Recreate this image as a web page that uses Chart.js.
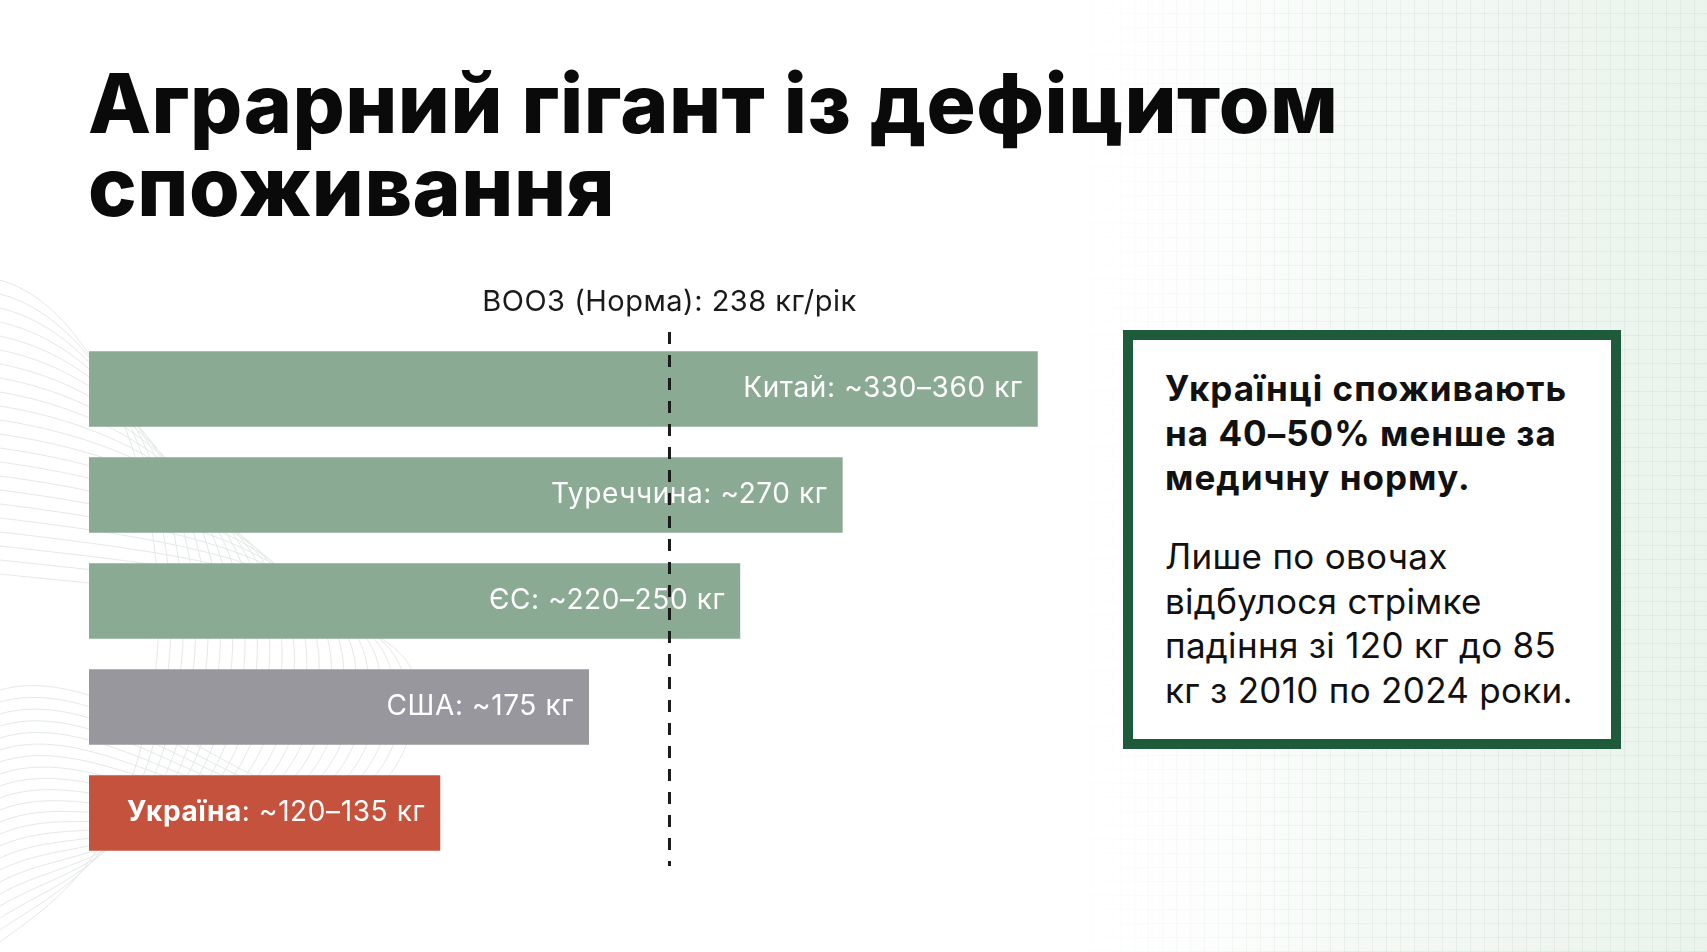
<!DOCTYPE html>
<html lang="uk">
<head>
<meta charset="utf-8">
<title>Аграрний гігант із дефіцитом споживання</title>
<script src="https://cdn.jsdelivr.net/npm/chart.js@4.4.1/dist/chart.umd.min.js"></script>
<style>
    html, body { margin: 0; padding: 0; }
    body {
        width: 1707px; height: 952px; overflow: hidden; position: relative;
        background: #ffffff; font-family: 'Inter', 'Noto Sans', sans-serif; color: #111;
    }
    .bg-right {
        position: absolute; left: 1050px; top: 0; width: 657px; height: 952px;
        background:
            repeating-linear-gradient(0deg, rgba(120,160,135,0.10) 0 1px, transparent 1px 14px),
            repeating-linear-gradient(90deg, rgba(120,160,135,0.10) 0 1px, transparent 1px 14px),
            linear-gradient(90deg, rgba(255,255,255,0) 0%, rgba(225,238,229,0.7) 100%);
        -webkit-mask-image: linear-gradient(90deg, transparent 0%, #000 45%);
        mask-image: linear-gradient(90deg, transparent 0%, #000 45%);
    }
    .bg-waves { position: absolute; left: 0; top: 270px; }
    h1 {
        position: absolute; left: 88px; top: 62px; margin: 0;
        font-size: 82px; line-height: 83px; font-weight: 800; letter-spacing: 0.5px;
        color: #0a0a0a;
    }
    #chart-wrap { position: absolute; left: 89px; top: 270px; width: 1000px; height: 600px; }
    .note {
        position: absolute; left: 1123px; top: 330px; width: 478px; height: 399px;
        border: 10px solid #1e5b3b; background: #fff;
    }
    .note p { position: absolute; left: 32px; margin: 0; font-size: 35px; line-height: 44.6px; color: #111; white-space: nowrap; }
    .note .strong { top: 26px; font-weight: 700; letter-spacing: 1px; }
    .note .plain { top: 194px; font-weight: 400; letter-spacing: 0.3px; }
</style>
</head>
<body>
<div class="bg-right"></div>
<svg class="bg-waves" width="560" height="682" id="waves"></svg>

<h1>Аграрний гігант із дефіцитом<br>споживання</h1>

<div id="chart-wrap"><canvas id="vegChart"></canvas></div>

<div class="note">
    <p class="strong">Українці споживають<br>на 40–50% менше за<br>медичну норму.</p>
    <p class="plain">Лише по овочах<br>відбулося стрімке<br>падіння зі 120 кг до 85<br>кг з 2010 по 2024 роки.</p>
</div>

<script>
// дані графіка
const countries = ['Китай', 'Туреччина', 'ЄС', 'США', 'Україна'];
const amountLabels = ['~330–360 кг', '~270 кг', '~220–250 кг', '~175 кг', '~120–135 кг'];
// довжини смуг, зчитані відносно лінії норми (238 кг)
const barValues = [389, 309, 267, 205, 144];
const barColors = ['#8aaa93', '#8aaa93', '#8aaa93', '#98979e', '#c4523c'];
const boldNames = [false, false, false, false, true];
const normValue = 238;
const normLabel = 'ВООЗ (Норма): 238 кг/рік';
const axisMax = 410;

// декоративні хвилі зліва
(function drawWaves() {
    const svg = document.getElementById('waves');
    let paths = '';
    for (let i = 0; i < 22; i++) {
        const y0 = 10 + i * 14;
        const y1 = 672 - i * 12;
        const reach = 180 + i * 14;
        paths += `<path d="M0 ${y0} C ${reach * 0.6} ${y0 + 30}, ${reach} ${250 + i * 4}, ${reach * 0.85} ${420 + i * 3} S ${reach * 0.3} ${y1 - 40}, 0 ${y1}" fill="none" stroke="#e4eae6" stroke-width="1"/>`;
    }
    svg.innerHTML = paths;
})();

const barLabelPlugin = {
    id: 'barLabels',
    afterDatasetsDraw(chart) {
        const { ctx, chartArea, scales } = chart;
        const xNorm = scales.x.getPixelForValue(normValue);

        // лінія норми
        ctx.save();
        ctx.strokeStyle = '#1b1b1b';
        ctx.lineWidth = 3;
        ctx.setLineDash([12, 11]);
        ctx.beginPath();
        ctx.moveTo(xNorm, chartArea.top - 4);
        ctx.lineTo(xNorm, chartArea.bottom);
        ctx.stroke();
        ctx.restore();

        // підпис норми
        ctx.save();
        ctx.font = '400 29px Inter, "Noto Sans", sans-serif';
        ctx.letterSpacing = '0.5px';
        ctx.fillStyle = '#1a1a1a';
        ctx.textAlign = 'center';
        ctx.textBaseline = 'middle';
        ctx.fillText(normLabel, xNorm, chartArea.top - 34);
        ctx.restore();

        // підписи всередині смуг
        const meta = chart.getDatasetMeta(0);
        meta.data.forEach((bar, i) => {
            const right = bar.x - 15;
            const nameFont = (boldNames[i] ? '700' : '400') + ' 28px Inter, "Noto Sans", sans-serif';
            const restFont = '400 28px Inter, "Noto Sans", sans-serif';
            const name = countries[i];
            const rest = ': ' + amountLabels[i];
            ctx.save();
            ctx.letterSpacing = '0.6px';
            ctx.fillStyle = '#ffffff';
            ctx.textBaseline = 'middle';
            ctx.font = restFont;
            const restW = ctx.measureText(rest).width;
            ctx.textAlign = 'right';
            ctx.fillText(rest, right, bar.y);
            ctx.font = nameFont;
            ctx.fillText(name, right - restW, bar.y);
            ctx.restore();
        });
    }
};

new Chart(document.getElementById('vegChart'), {
    type: 'bar',
    data: {
        labels: countries,
        datasets: [{
            data: barValues,
            backgroundColor: barColors,
            borderWidth: 0,
            barPercentage: 0.712,
            categoryPercentage: 1
        }]
    },
    options: {
        indexAxis: 'y',
        responsive: true,
        maintainAspectRatio: false,
        animation: false,
        layout: { padding: { top: 66, bottom: 4, left: 0, right: 0 } },
        plugins: {
            legend: { display: false },
            tooltip: { enabled: false },
            title: { display: false }
        },
        scales: {
            x: { min: 0, max: axisMax, display: false },
            y: { display: false }
        }
    },
    plugins: [barLabelPlugin]
});
</script>
</body>
</html>
